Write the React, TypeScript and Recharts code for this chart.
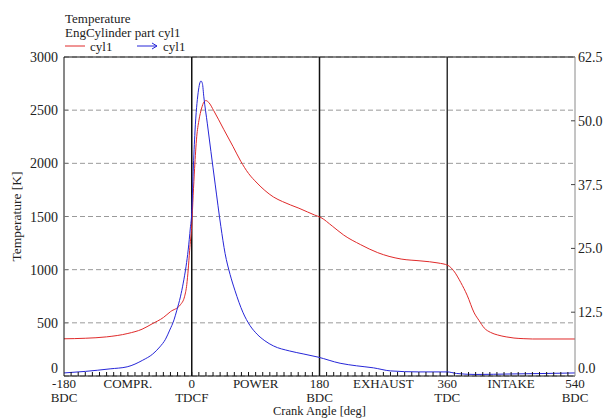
import React from "react";
import {
  LineChart,
  Line,
  XAxis,
  YAxis,
  CartesianGrid,
  ReferenceLine,
  Label,
} from "recharts";

// crank angle [deg] -> gas temperature [K]
const tempAngles = [
  -180, -150, -120, -90, -70, -56, -40, -30, -16, -10, -7, -5, -3, 0, 2, 4, 7, 10, 14, 17, 20, 24, 31,
  45, 58, 69, 80, 92, 103, 115, 128, 139, 151, 163, 173, 182, 198, 214, 238, 262, 278, 295, 323, 347,
  361, 369, 379, 388, 398, 405, 412, 421, 431, 443, 454, 468, 480, 540,
];
const tempValues = [
  350, 355, 368, 400, 440, 490, 550, 605, 670, 750, 860, 1000, 1180, 1420, 1700, 1950, 2250, 2400,
  2520, 2575, 2590, 2572, 2495, 2320, 2160, 2020, 1905, 1815, 1745, 1684, 1640, 1609, 1578, 1543,
  1514, 1490, 1410, 1326, 1235, 1160, 1125, 1100, 1082, 1063, 1040, 990, 880, 760, 593, 520, 452,
  410, 386, 368, 357, 351, 348, 348,
];

// second cyl1 trace (right axis)
const rightAngles = [
  -180, -150, -115, -91, -69, -55, -45, -37, -31, -25, -21, -16, -12, -8, -5, -2, 0, 2, 4.6, 9, 13, 15,
  17, 22, 27, 33, 41, 47, 54, 61, 72, 82, 92, 103, 115, 138, 158, 178, 209, 232, 256, 280, 320, 360,
  373, 400, 450, 500, 540,
];
const rightValues = [
  0.6, 0.9, 1.4, 1.8, 3.1, 4.3, 5.7, 7.2, 9, 11, 12.9, 15.5, 18.2, 21.5, 24.7, 29, 32, 40, 48, 55.5,
  57.8, 57.3, 54.7, 49.4, 44, 37.6, 29.3, 24, 19.9, 16.7, 12.5, 9.9, 8.2, 6.9, 5.9, 4.9, 4.3, 3.7,
  2.5, 2.0, 1.6, 1.0, 0.8, 0.8, 0.5, 0.3, 0.4, 0.5, 0.6,
];

const majorTicks = [-180, 0, 180, 360, 540];
const majorNames = ["BDC", "TDCF", "BDC", "TDC", "BDC"];
const phaseTicks = [-90, 90, 270, 450];
const phaseNames = ["COMPR.", "POWER", "EXHAUST", "INTAKE"];
const leftTicks = [0, 500, 1000, 1500, 2000, 2500, 3000];
const rightTicks = [0, 12.5, 25, 37.5, 50, 62.5];
const minorTicks = Array.from({ length: 73 }, (_, i) => -180 + i * 10);

const tempData = tempAngles.map((deg, i) => ({ deg, temp: tempValues[i] }));
const rightData = rightAngles.map((deg, i) => ({ deg, val: rightValues[i] }));

const FONT = "'Liberation Serif', 'Times New Roman', serif";
const RED = "#e02a2a";
const BLUE = "#2626d8";

function XTick(props: any) {
  const { x, y, payload } = props;
  const v = payload.value;
  const mi = majorTicks.indexOf(v);
  const pi = phaseTicks.indexOf(v);
  return (
    <g fontFamily={FONT} fontSize={13} fill="#222">
      {v > -180 && v < 540 && <line x1={x} x2={x} y1={y} y2={y - 4} stroke="#111" />}
      {mi >= 0 && (
        <>
          <text x={x} y={y + 11.8} textAnchor="middle">{v}</text>
          <text x={x} y={y + 25.8} textAnchor="middle">{majorNames[mi]}</text>
        </>
      )}
      {pi >= 0 && (
        <text x={x} y={y + 11.8} textAnchor="middle">{phaseNames[pi]}</text>
      )}
    </g>
  );
}

function LeftTick(props: any) {
  const { x, y, payload } = props;
  const v = payload.value;
  // bottom label sits just above the axis, like the original
  const ty = v === 0 ? y - 3 : y + 5;
  return (
    <g>
      {v > 0 && v < 3000 && <line x1={x} x2={x + 4} y1={y} y2={y} stroke="#777" />}
      <text x={x - 6} y={ty} textAnchor="end" fontFamily={FONT} fontSize={14} fill="#222">
        {v}
      </text>
    </g>
  );
}

function RightTick(props: any) {
  const { x, y, payload } = props;
  const v = payload.value;
  const ty = v === 0 ? y - 3 : y + 5;
  return (
    <g>
      {v > 0 && v < 62.5 && <line x1={x} x2={x - 4} y1={y} y2={y} stroke="#444" />}
      <text x={x + 3} y={ty} textAnchor="start" fontFamily={FONT} fontSize={14} fill="#222">
        {v.toFixed(1)}
      </text>
    </g>
  );
}

export default function App() {
  return (
    <div
      style={{
        position: "absolute",
        left: 0,
        top: 0,
        width: 603,
        height: 419,
        background: "#fff",
        overflow: "hidden",
      }}
    >
      <div
        style={{
          position: "absolute",
          left: 65,
          top: 12,
          fontFamily: FONT,
          fontSize: 13,
          lineHeight: "14px",
          color: "#222",
        }}
      >
        <div>Temperature</div>
        <div>EngCylinder part cyl1</div>
        <div style={{ position: "relative", height: 14 }}>
          <svg width={130} height={14} style={{ position: "absolute", left: 0, top: 0 }}>
            <line x1={0} x2={20} y1={6} y2={6} stroke={RED} />
            <line x1={72} x2={92} y1={6} y2={6} stroke={BLUE} />
            <path d="M 87 3 L 92 6 L 87 9" fill="none" stroke={BLUE} />
          </svg>
          <span style={{ position: "absolute", left: 25 }}>cyl1</span>
          <span style={{ position: "absolute", left: 98 }}>cyl1</span>
        </div>
      </div>
      <LineChart
        width={603}
        height={419}
        margin={{ top: 57, right: 0, bottom: 0, left: 0 }}
        style={{ position: "absolute", left: 0, top: 0 }}
      >
        <CartesianGrid
          yAxisId="left"
          vertical={false}
          stroke="#9a9a9a"
          strokeDasharray="5 3"
        />
        <XAxis
          dataKey="deg"
          type="number"
          domain={[-180, 540]}
          ticks={minorTicks}
          interval={0}
          allowDuplicatedCategory={false}
          height={43}
          tickSize={0}
          tickMargin={0}
          tickLine={false}
          axisLine={{ stroke: "#111" }}
          tick={<XTick />}
        >
          <Label
            value="Crank Angle [deg]"
            position="insideBottom"
            offset={3.6}
            style={{ fontFamily: FONT, fontSize: 12.5, fill: "#222" }}
          />
        </XAxis>
        <YAxis
          yAxisId="left"
          orientation="left"
          width={64}
          domain={[0, 3000]}
          ticks={leftTicks}
          interval={0}
          tickSize={0}
          tickMargin={0}
          tickLine={false}
          axisLine={{ stroke: "#111" }}
          tick={<LeftTick />}
        >
          <Label
            content={(p: any) => {
              const vb = p.viewBox || { x: 0, y: 57, width: 64, height: 319 };
              const cx = vb.x + 16;
              const cy = vb.y + vb.height / 2;
              return (
                <text
                  x={cx}
                  y={cy}
                  transform={`rotate(-90, ${cx}, ${cy})`}
                  textAnchor="middle"
                  dominantBaseline="central"
                  fontFamily={FONT}
                  fontSize={13.5}
                  fill="#222"
                >
                  Temperature [K]
                </text>
              );
            }}
          />
        </YAxis>
        <YAxis
          yAxisId="right"
          orientation="right"
          width={28}
          domain={[0, 62.5]}
          ticks={rightTicks}
          interval={0}
          tickSize={0}
          tickMargin={0}
          tickLine={false}
          axisLine={{ stroke: "#8a8a8a" }}
          tick={<RightTick />}
        />
        <ReferenceLine yAxisId="left" y={3000} stroke="#111" />
        <ReferenceLine yAxisId="left" x={0} stroke="#111" strokeWidth={1.5} />
        <ReferenceLine yAxisId="left" x={180} stroke="#111" strokeWidth={1.5} />
        <ReferenceLine yAxisId="left" x={360} stroke="#333" strokeWidth={1.5} />
        <Line
          yAxisId="left"
          data={tempData}
          dataKey="temp"
          type="monotone"
          stroke={RED}
          strokeWidth={1}
          dot={false}
          isAnimationActive={false}
        />
        <Line
          yAxisId="right"
          data={rightData}
          dataKey="val"
          type="monotone"
          stroke={BLUE}
          strokeWidth={1}
          dot={false}
          isAnimationActive={false}
        />
      </LineChart>
    </div>
  );
}
